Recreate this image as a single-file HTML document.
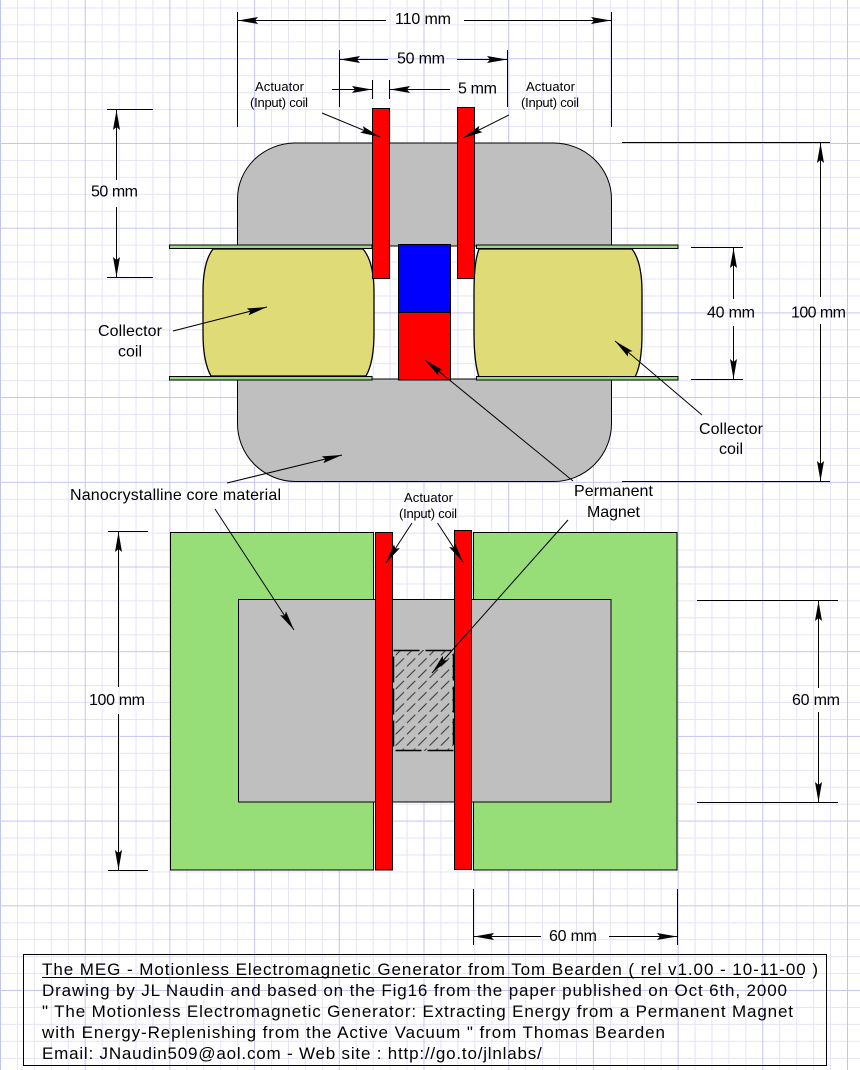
<!DOCTYPE html>
<html>
<head>
<meta charset="utf-8">
<style>
html,body{margin:0;padding:0;background:#fff;}
svg{display:block;}
text{font-family:"Liberation Sans",Arial,sans-serif;fill:#000;}
</style>
</head>
<body>
<svg width="860" height="1070" viewBox="0 0 860 1070" xmlns="http://www.w3.org/2000/svg">
<defs>
  <pattern id="grid" x="0" y="58.3" width="84.7" height="84.7" patternUnits="userSpaceOnUse">
    <rect x="0" y="0" width="84.7" height="84.7" fill="#fff"/>
    <g shape-rendering="crispEdges">
      <rect x="16.94" y="0" width="1" height="84.7" fill="#e4e4f8"/>
      <rect x="33.88" y="0" width="1" height="84.7" fill="#e4e4f8"/>
      <rect x="50.82" y="0" width="1" height="84.7" fill="#e4e4f8"/>
      <rect x="67.76" y="0" width="1" height="84.7" fill="#e4e4f8"/>
      <rect x="0" y="16.94" width="84.7" height="1" fill="#e4e4f8"/>
      <rect x="0" y="33.88" width="84.7" height="1" fill="#e4e4f8"/>
      <rect x="0" y="50.82" width="84.7" height="1" fill="#e4e4f8"/>
      <rect x="0" y="67.76" width="84.7" height="1" fill="#e4e4f8"/>
      <rect x="0" y="0" width="1" height="84.7" fill="#c4c4f4"/>
      <rect x="0" y="0" width="84.7" height="1" fill="#c4c4f4"/>
    </g>
  </pattern>
  <pattern id="hatch" x="0" y="0" width="11.3" height="11.3" patternUnits="userSpaceOnUse">
    <path d="M0,11.3 L11.3,0" stroke="#333" stroke-width="1" stroke-dasharray="12 4"/>
  </pattern>
  <marker id="ar" markerUnits="userSpaceOnUse" markerWidth="20" markerHeight="8" viewBox="0 0 20 7" refX="20" refY="3.5" orient="auto">
    <path d="M0,0 L20,3.5 L0,7 L3,3.5 Z" fill="#000"/>
  </marker>
</defs>

<rect x="0" y="0" width="860" height="1070" fill="url(#grid)"/>

<!-- ===== TOP VIEW ===== -->
<path d="M237.5,246 V199 A58,56 0 0 1 295,143 H553 A58,56 0 0 1 611.5,199 V246 Z" fill="#bfbfbf" stroke="#000" stroke-width="1"/>
<path d="M237.5,379 V423 A58,58 0 0 0 295,481.5 H553 A58,58 0 0 0 611.5,423 V379 Z" fill="#bfbfbf" stroke="#000" stroke-width="1"/>

<!-- collector coils -->
<path d="M213,249 H363 Q374,262 374,292 V333 Q374,362 366,376 H211 Q203,362 203,333 V292 Q203,262 213,249 Z" fill="#dfdc78" stroke="#000" stroke-width="1.3"/>
<path d="M479,249 H632 Q642,262 642,292 V333 Q642,364 635,377 H479 Q474,362 474,333 V292 Q474,262 479,249 Z" fill="#dfdc78" stroke="#000" stroke-width="1.3"/>

<!-- flanges -->
<rect x="169.5" y="245" width="202.5" height="3.5" fill="#98de78" stroke="#000" stroke-width="1"/>
<rect x="169.5" y="376.5" width="202.5" height="3.5" fill="#98de78" stroke="#000" stroke-width="1"/>
<rect x="476.5" y="245" width="201.5" height="3.5" fill="#98de78" stroke="#000" stroke-width="1"/>
<rect x="476.5" y="376.5" width="201.5" height="3.5" fill="#98de78" stroke="#000" stroke-width="1"/>

<!-- magnet -->
<rect x="398.5" y="244.5" width="52" height="68" fill="#0000ff" stroke="#000" stroke-width="1"/>
<rect x="398.5" y="312.5" width="52" height="67.5" fill="#ff0000" stroke="#000" stroke-width="1"/>

<!-- actuator coils -->
<rect x="372.5" y="108.5" width="17" height="170" fill="#ff0000" stroke="#000" stroke-width="1"/>
<rect x="457.5" y="107.5" width="17" height="171" fill="#ff0000" stroke="#000" stroke-width="1"/>

<!-- ===== BOTTOM VIEW ===== -->
<rect x="170.5" y="532.5" width="203" height="337.5" fill="#98de78" stroke="#000" stroke-width="1"/>
<rect x="473.5" y="532.5" width="203.5" height="337.5" fill="#98de78" stroke="#000" stroke-width="1"/>
<rect x="238.5" y="599.5" width="372.5" height="202.5" fill="#bfbfbf" stroke="#000" stroke-width="1"/>
<rect x="393" y="650" width="61" height="101" fill="#bfbfbf"/>
<rect x="393" y="650" width="61" height="101" fill="url(#hatch)"/>
<rect x="393.5" y="650.5" width="60" height="100" fill="none" stroke="#000" stroke-width="1.5" stroke-dasharray="26 6"/>
<rect x="375.5" y="532.5" width="17" height="337.5" fill="#ff0000" stroke="#000" stroke-width="1"/>
<rect x="454.5" y="530.5" width="17" height="339" fill="#ff0000" stroke="#000" stroke-width="1"/>

<!-- ===== DIMENSIONS ===== -->
<g stroke="#000" stroke-width="1" fill="none">
  <!-- 110 mm -->
  <line x1="237.5" y1="12" x2="237.5" y2="127"/>
  <line x1="611.5" y1="12" x2="611.5" y2="127"/>
  <line x1="386" y1="20.5" x2="238" y2="20.5" marker-end="url(#ar)"/>
  <line x1="464" y1="20.5" x2="611" y2="20.5" marker-end="url(#ar)"/>
  <!-- 50 mm top -->
  <line x1="339.5" y1="50" x2="339.5" y2="107"/>
  <line x1="507.5" y1="50" x2="507.5" y2="107"/>
  <line x1="388" y1="59.5" x2="340" y2="59.5" marker-end="url(#ar)"/>
  <line x1="457" y1="59.5" x2="507" y2="59.5" marker-end="url(#ar)"/>
  <!-- 5 mm -->
  <line x1="372.5" y1="80" x2="372.5" y2="99"/>
  <line x1="389.5" y1="80" x2="389.5" y2="99"/>
  <line x1="332" y1="89.5" x2="372" y2="89.5" marker-end="url(#ar)"/>
  <line x1="450" y1="89.5" x2="390" y2="89.5" marker-end="url(#ar)"/>
  <!-- 50 mm left -->
  <line x1="107" y1="109.5" x2="153" y2="109.5"/>
  <line x1="107" y1="277.5" x2="153" y2="277.5"/>
  <line x1="116.5" y1="180" x2="116.5" y2="110" marker-end="url(#ar)"/>
  <line x1="116.5" y1="207" x2="116.5" y2="277" marker-end="url(#ar)"/>
  <!-- 40 mm -->
  <line x1="691" y1="247.5" x2="743" y2="247.5"/>
  <line x1="691" y1="379.5" x2="743" y2="379.5"/>
  <line x1="733.5" y1="299" x2="733.5" y2="248" marker-end="url(#ar)"/>
  <line x1="733.5" y1="326" x2="733.5" y2="379" marker-end="url(#ar)"/>
  <!-- 100 mm right -->
  <line x1="622" y1="142.5" x2="830" y2="142.5"/>
  <line x1="622" y1="481.5" x2="830" y2="481.5"/>
  <line x1="820.5" y1="297" x2="820.5" y2="143" marker-end="url(#ar)"/>
  <line x1="820.5" y1="324" x2="820.5" y2="481" marker-end="url(#ar)"/>
  <!-- 100 mm left bottom -->
  <line x1="108" y1="531.5" x2="148" y2="531.5"/>
  <line x1="108" y1="870.5" x2="148" y2="870.5"/>
  <line x1="118.5" y1="687" x2="118.5" y2="532" marker-end="url(#ar)"/>
  <line x1="118.5" y1="714" x2="118.5" y2="870" marker-end="url(#ar)"/>
  <!-- 60 mm right -->
  <line x1="697" y1="600.5" x2="838" y2="600.5"/>
  <line x1="697" y1="802.5" x2="838" y2="802.5"/>
  <line x1="818.5" y1="688" x2="818.5" y2="601" marker-end="url(#ar)"/>
  <line x1="818.5" y1="712" x2="818.5" y2="802" marker-end="url(#ar)"/>
  <!-- 60 mm bottom -->
  <line x1="473.5" y1="889" x2="473.5" y2="945"/>
  <line x1="677.5" y1="889" x2="677.5" y2="945"/>
  <line x1="541" y1="936.5" x2="474" y2="936.5" marker-end="url(#ar)"/>
  <line x1="609" y1="936.5" x2="677" y2="936.5" marker-end="url(#ar)"/>
</g>

<!-- ===== LEADERS ===== -->
<g stroke="#000" stroke-width="1" fill="none">
  <line x1="322" y1="113" x2="380" y2="137" marker-end="url(#ar)"/>
  <line x1="509" y1="115" x2="463" y2="138" marker-end="url(#ar)"/>
  <line x1="173" y1="331" x2="267" y2="307" marker-end="url(#ar)"/>
  <line x1="702" y1="415" x2="615" y2="341" marker-end="url(#ar)"/>
  <line x1="573" y1="481" x2="425" y2="360" marker-end="url(#ar)"/>
  <line x1="227" y1="483" x2="342" y2="455" marker-end="url(#ar)"/>
  <line x1="215" y1="509" x2="294" y2="630" marker-end="url(#ar)"/>
  <line x1="412" y1="523" x2="386" y2="563" marker-end="url(#ar)"/>
  <line x1="437.5" y1="523" x2="463" y2="562" marker-end="url(#ar)"/>
  <line x1="568" y1="520" x2="432" y2="673" marker-end="url(#ar)"/>
</g>

<!-- ===== TEXT ===== -->
<g font-size="16">
  <text x="395" y="24" textLength="56">110 mm</text>
  <text x="397" y="63.5" textLength="48">50 mm</text>
  <text x="458" y="93.5" textLength="39">5 mm</text>
  <text x="91" y="196.5" textLength="47">50 mm</text>
  <text x="98" y="336" textLength="64">Collector</text>
  <text x="118" y="356.5" textLength="24">coil</text>
  <text x="707" y="317.5" textLength="48">40 mm</text>
  <text x="791" y="317.5" textLength="55">100 mm</text>
  <text x="699" y="434" textLength="64">Collector</text>
  <text x="719" y="454" textLength="24">coil</text>
  <text x="70" y="500" textLength="211">Nanocrystalline core material</text>
  <text x="574" y="496" textLength="79">Permanent</text>
  <text x="587" y="517" textLength="53">Magnet</text>
  <text x="89" y="705" textLength="56">100 mm</text>
  <text x="792" y="705" textLength="48">60 mm</text>
  <text x="549" y="941" textLength="48">60 mm</text>
</g>
<g font-size="13">
  <text x="255" y="91" textLength="49">Actuator</text>
  <text x="250" y="107" textLength="58">(Input) coil</text>
  <text x="526" y="91" textLength="49">Actuator</text>
  <text x="521" y="107" textLength="58">(Input) coil</text>
  <text x="404" y="502" textLength="49">Actuator</text>
  <text x="399" y="518" textLength="58">(Input) coil</text>
</g>

<!-- ===== TITLE BOX ===== -->
<rect x="23.5" y="954.5" width="803" height="111" fill="none" stroke="#000" stroke-width="1"/>
<g font-size="17">
  <text x="42" y="975" textLength="776">The MEG - Motionless Electromagnetic Generator from Tom Bearden ( rel v1.00 - 10-11-00 )</text>
  <line x1="42" y1="977.5" x2="803" y2="977.5" stroke="#000" stroke-width="1"/>
  <text x="42" y="996" textLength="745">Drawing by JL Naudin and based on the Fig16 from the paper published on Oct 6th, 2000</text>
  <text x="42" y="1017" textLength="751">" The Motionless Electromagnetic Generator: Extracting Energy from a Permanent Magnet</text>
  <text x="42" y="1038" textLength="623">with Energy-Replenishing from the Active Vacuum " from Thomas Bearden</text>
  <text x="42" y="1059" letter-spacing="0.8">Email: JNaudin509@aol.com - Web site : http://go.to/jlnlabs/</text>
</g>
</svg>
</body>
</html>
